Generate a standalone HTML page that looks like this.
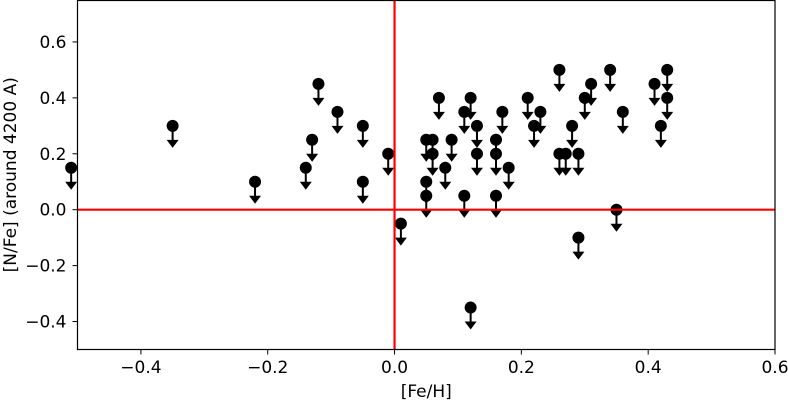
<!DOCTYPE html>
<html><head><meta charset="utf-8"><style>
body{margin:0;background:#fff}
svg{display:block;font-family:"DejaVu Sans","Liberation Sans",sans-serif}
</style></head><body>
<svg id="chart" width="788" height="401" viewBox="0 0 788 401">
<g id="plot"></g>
</svg>
<script>
const feH = [-0.51,-0.35,-0.22,-0.14,-0.13,-0.12,-0.09,-0.05,-0.05,-0.01,0.01,
0.05,0.05,0.05,0.06,0.06,0.07,0.08,0.09,0.11,0.11,0.12,0.12,0.13,0.13,0.16,0.16,0.16,0.17,0.18,
0.21,0.22,0.23,0.26,0.26,0.27,0.28,0.29,0.29,0.30,0.31,0.34,0.35,0.36,0.41,0.42,0.43,0.43];
const nFe = [0.15,0.3,0.1,0.15,0.25,0.45,0.35,0.3,0.1,0.2,-0.05,
0.25,0.1,0.05,0.25,0.2,0.4,0.15,0.25,0.35,0.05,0.4,-0.35,0.3,0.2,0.25,0.2,0.05,0.35,0.15,
0.4,0.3,0.35,0.5,0.2,0.2,0.3,0.2,-0.1,0.4,0.45,0.5,0.0,0.35,0.45,0.3,0.5,0.4];
const xTicks = [-0.4,-0.2,0.0,0.2,0.4,0.6];
const yTicks = [-0.4,-0.2,0.0,0.2,0.4,0.6];
const xMin=-0.5,xMax=0.6,yMin=-0.5,yMax=0.75;
const L=77.5,R=775,T=0,B=349.5;
const sx=v=>L+(v-xMin)/(xMax-xMin)*(R-L);
const sy=v=>B-(v-yMin)/(yMax-yMin)*(B-T);
const NS="http://www.w3.org/2000/svg";
const svg=document.getElementById('chart');
const plot=document.getElementById('plot');
function mk(t,a,p){const e=document.createElementNS(NS,t);for(const k in a)e.setAttribute(k,a[k]);(p||svg).appendChild(e);return e;}
feH.forEach((x,i)=>{
  const cx=sx(x),cy=sy(nFe[i]);
  const g=mk('g',{},plot);
  
  
  mk('line',{x1:cx,y1:cy,x2:cx,y2:cy+16,stroke:'#000','stroke-width':2},g);
  mk('polygon',{points:`${cx-6},${cy+14} ${cx+6},${cy+14} ${cx},${cy+22}`,fill:'#000'},g);
  mk('circle',{cx:cx,cy:cy,r:6,fill:'#000'},g);
});
const hl=mk('line',{x1:L,x2:R,y1:sy(0),y2:sy(0),stroke:'#f00','stroke-width':2.2});


const vl=mk('line',{x1:sx(0),x2:sx(0),y1:T,y2:B,stroke:'#f00','stroke-width':2.2});


const fr=mk('rect',{x:L,y:T+0.5,width:R-L,height:B-T-0.5,fill:'none',stroke:'#000','stroke-width':1.2});


const fmt=v=>(v<0?'\u2212':'')+Math.abs(v).toFixed(1);
xTicks.forEach(v=>{
  const x=sx(v);
  mk('line',{x1:x,x2:x,y1:B,y2:B+5,stroke:'#000','stroke-width':1});
  const t=mk('text',{x:x,y:373,'text-anchor':'middle','font-size':17,fill:'#000'});
  t.textContent=fmt(v);
  
  
});
yTicks.forEach(v=>{
  const y=sy(v);
  mk('line',{x1:L-5,x2:L,y1:y,y2:y,stroke:'#000','stroke-width':1});
  const t=mk('text',{x:L-11,y:y+6,'text-anchor':'end','font-size':17,fill:'#000'});
  t.textContent=fmt(v);
  
  
});
const xt=mk('text',{x:(L+R)/2,y:397,'text-anchor':'middle','font-size':17,fill:'#000'});
xt.textContent='[Fe/H]';


const yt=mk('text',{x:0,y:0,'text-anchor':'middle','font-size':17,fill:'#000',transform:`translate(16,${(T+B)/2}) rotate(-90)`});
yt.textContent='[N/Fe] (around 4200 A)';


</script>
</body></html>
